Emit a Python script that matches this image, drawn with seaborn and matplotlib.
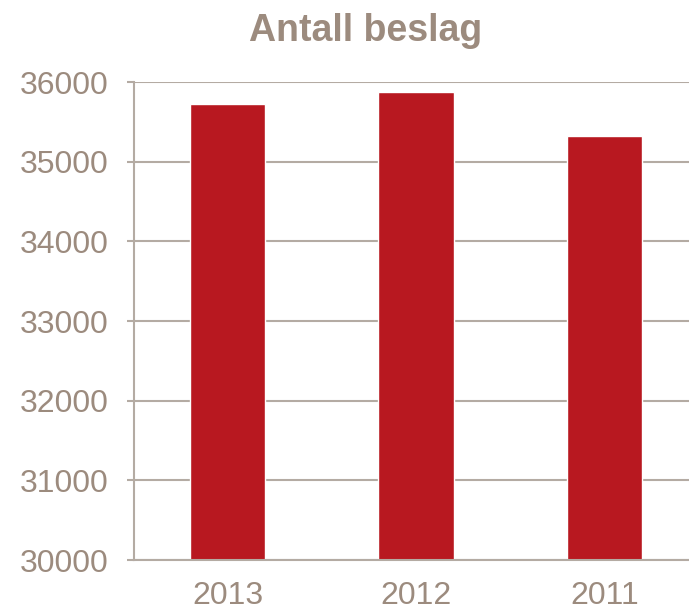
import seaborn as sns
from matplotlib import pyplot as plt
import pandas as pd

years = ["2013", "2012", "2011"]
beslag = [35730, 35880, 35320]
y_ticks = [30000, 31000, 32000, 33000, 34000, 35000, 36000]

bar_color = "#B81820"
text_color = "#9C8B7E"
line_color = "#B4ABA3"

df = pd.DataFrame({"year": years, "beslag": beslag})

sns.set_style("white")
plt.rcParams['font.family'] = ['Liberation Sans', 'DejaVu Sans']

fig = plt.figure(figsize=(6.89, 6.13), dpi=100)
ax = fig.add_axes([0.194, 0.0864, 0.806, 0.7796])

sns.barplot(data=df, x="year", y="beslag", order=years, color=bar_color,
            width=0.4, saturation=1, ax=ax)

ax.set_ylim(30000, 36000)
ax.set_xlim(-0.5, 2.45)
ax.set_yticks(y_ticks)
ax.set_yticklabels([str(v) for v in y_ticks])
ax.yaxis.grid(True, color=line_color, linewidth=1.5)
ax.set_axisbelow(True)

# category boundary ticks
ax.set_xticks([-0.5, 0.5, 1.5], minor=True)
ax.tick_params(axis="x", which="major", length=0, pad=15, labelsize=23, labelcolor=text_color)
ax.tick_params(axis="x", which="minor", length=8, width=1.5, color=line_color, direction="out")
ax.tick_params(axis="y", length=5, width=1.5, color=line_color, pad=13, labelsize=23,
               labelcolor=text_color, left=True)

for s in ["top", "right"]:
    ax.spines[s].set_visible(False)
for s in ["left", "bottom"]:
    ax.spines[s].set_color(line_color)
    ax.spines[s].set_linewidth(1.5)

ax.set_xlabel("")
ax.set_ylabel("")

fig.text(0.53, 0.95, "Antall beslag", ha="center", va="center",
         fontsize=27, fontweight="bold", color=text_color)

plt.savefig("out.png", dpi=100)
